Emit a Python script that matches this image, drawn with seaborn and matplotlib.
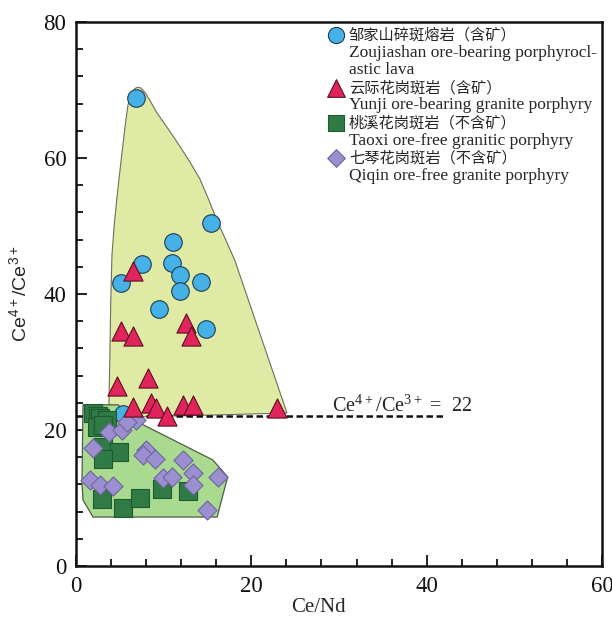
import matplotlib
matplotlib.use("Agg")
import matplotlib.pyplot as plt
from matplotlib.ticker import MultipleLocator
import pandas as pd
import seaborn as sns

# Ce/Nd and Ce4+/Ce3+ of zircons from each intrusion
zoujiashan_ce_nd = [6.84, 15.36, 11.03, 7.49, 10.92, 11.86, 14.22, 5.13, 11.86, 9.50, 14.83, 5.40]
zoujiashan_ce_ratio = [68.8, 50.4, 47.7, 44.4, 44.6, 42.8, 41.8, 41.6, 40.5, 37.8, 34.8, 22.3]

yunji_ce_nd = [6.47, 5.10, 6.54, 12.55, 13.08, 8.18, 4.64, 6.47, 8.52, 9.13, 10.35, 12.24, 13.31, 22.89]
yunji_ce_ratio = [43.4, 34.6, 33.8, 35.8, 33.8, 27.7, 26.4, 23.4, 24.0, 23.2, 22.1, 23.7, 23.7, 23.3]

taoxi_ce_nd = [1.97, 2.51, 2.74, 3.50, 2.43, 3.11, 3.11, 4.94, 3.11, 2.93, 5.40, 7.30, 9.78, 12.81]
taoxi_ce_ratio = [22.5, 22.1, 21.8, 21.5, 20.5, 20.7, 17.5, 16.8, 15.8, 9.8, 8.5, 10.0, 11.3, 11.1]

qiqin_ce_nd = [3.80, 5.21, 6.84, 5.78, 1.97, 7.98, 7.61, 9.01, 12.17, 13.38, 16.16, 1.60, 2.74, 4.25,
               9.89, 10.92, 13.38, 14.91]
qiqin_ce_ratio = [19.75, 20.0, 21.5, 21.2, 17.3, 17.1, 16.3, 15.8, 15.6, 13.7, 13.1, 12.6, 11.9, 11.8,
                  12.9, 13.1, 11.9, 8.3]

# Outlines of the ore-bearing and ore-free fields
ore_field_x = [3.76, 3.76, 3.85, 3.95, 4.10, 4.35, 4.64, 5.00, 5.36, 5.65, 5.93, 6.30, 6.70, 7.00,
               7.40, 7.90, 8.50, 9.20, 10.50, 11.86, 13.00, 14.14, 15.10, 16.05, 17.10, 18.10,
               24.07, 3.76]
ore_field_y = [21.8, 24.0, 30.0, 38.0, 45.7, 50.0, 53.8, 58.0, 62.0, 65.2, 67.8, 69.4, 70.2, 70.4,
               70.3, 69.6, 68.3, 66.7, 64.3, 61.7, 59.4, 56.9, 54.0, 50.9, 47.9, 45.0,
               22.5, 21.8]
barren_field_x = [0.80, 4.79, 7.30, 15.60, 17.30, 16.10, 1.94, 0.80, 0.68, 0.80]
barren_field_y = [23.7, 23.7, 21.0, 15.6, 13.1, 7.2, 7.2, 9.7, 12.2, 23.7]

# Ce4+/Ce3+ threshold
threshold = 22
threshold_x_end = 42

legend_zh = ["邹家山碎斑熔岩（含矿）", "云际花岗斑岩（含矿）", "桃溪花岗斑岩（不含矿）", "七琴花岗斑岩（不含矿）"]
legend_en = ["Zoujiashan ore-bearing porphyrocl-\nastic lava", "Yunji ore-bearing granite porphyry",
             "Taoxi ore-free granitic porphyry", "Qiqin ore-free granite porphyry"]

sns.set_theme(style="ticks")
plt.rcParams["font.family"] = ["Liberation Serif", "Noto Sans CJK SC", "DejaVu Sans"]
plt.rcParams["mathtext.default"] = "regular"

fig = plt.figure(figsize=(6.12, 6.19), dpi=100)
ax = fig.add_axes([76 / 612, 53 / 619, 526 / 612, 544 / 619])

ax.fill(ore_field_x, ore_field_y, facecolor="#dfeba4", edgecolor="#6e6e5a", lw=0.8, zorder=1)
ax.fill(barren_field_x, barren_field_y, facecolor="#a9da8f", edgecolor="#4f5a4a", lw=0.9,
        joinstyle="round", zorder=2)
ax.plot([0, threshold_x_end], [threshold, threshold], color="#111111", lw=1.8,
        linestyle=(0, (2.6, 1.4)), zorder=3)
ax.text(29.2, threshold + 0.7, "Ce$^{4+}$/Ce$^{3+}$ =  %d" % threshold, fontsize=14.5,
        va="baseline", ha="left", zorder=6)

groups = [
    (zoujiashan_ce_nd, zoujiashan_ce_ratio, "o", 160, "#46b1e6", "#1d3d55", 4),
    (taoxi_ce_nd, taoxi_ce_ratio, "s", 150, "#2f7a45", "#1f5a30", 5),
    (qiqin_ce_nd, qiqin_ce_ratio, "D", 95, "#9b8fd2", "#6e6699", 5),
    (yunji_ce_nd, yunji_ce_ratio, "^", 190, "#e2245c", "#5a1020", 6),
]
for xs, ys, mk, s, fc, ec, z in groups:
    df = pd.DataFrame({"Ce/Nd": xs, "ratio": ys})
    sns.scatterplot(data=df, x="Ce/Nd", y="ratio", marker=mk, s=s, color=fc,
                    edgecolor=ec, linewidth=0.8, ax=ax, zorder=z, legend=False)

ax.set_xlim(0, 60)
ax.set_ylim(0, 80)
ax.xaxis.set_major_locator(MultipleLocator(20))
ax.xaxis.set_minor_locator(MultipleLocator(4))
ax.yaxis.set_major_locator(MultipleLocator(20))
ax.yaxis.set_minor_locator(MultipleLocator(4))
ax.tick_params(which="both", direction="in", top=False, right=False, colors="#111111",
               labelsize=16.5, width=1.3)
ax.tick_params(which="major", length=8, pad=7)
ax.tick_params(which="minor", length=5)
for sp in ax.spines.values():
    sp.set_linewidth(1.8)
    sp.set_color("#111111")

ax.set_xlabel("Ce/Nd", fontsize=15)
ax.xaxis.set_label_coords(0.46, -0.058)
ax.set_ylabel("Ce$^{4+}$/Ce$^{3+}$", fontsize=14, family=["Liberation Sans"])
ax.yaxis.set_label_coords(-0.087, 0.5)

# Key in the upper right corner: symbol plus Chinese name, English name below
def fy(py):
    return (566 - py) / 544

line_step = 17.6
row = 0
for (xs, ys, mk, s, fc, ec, z), zh, en in zip(
        [groups[0], groups[3], groups[1], groups[2]], legend_zh, legend_en):
    py = 35 + row * line_step
    ax.scatter([0.494], [fy(py)], marker=mk, s=s * 0.85, color=fc, edgecolor=ec,
               linewidth=0.8, transform=ax.transAxes, clip_on=False, zorder=7)
    ax.text(0.519, fy(py), zh, fontsize=11, va="center", ha="left",
            transform=ax.transAxes, zorder=7)
    row += 1
    for part in en.split("\n"):
        py = 35 + row * line_step
        ax.text(0.519, fy(py), part, fontsize=12.5, va="center", ha="left",
                transform=ax.transAxes, zorder=7)
        row += 1

fig.savefig("out.png", dpi=100)
